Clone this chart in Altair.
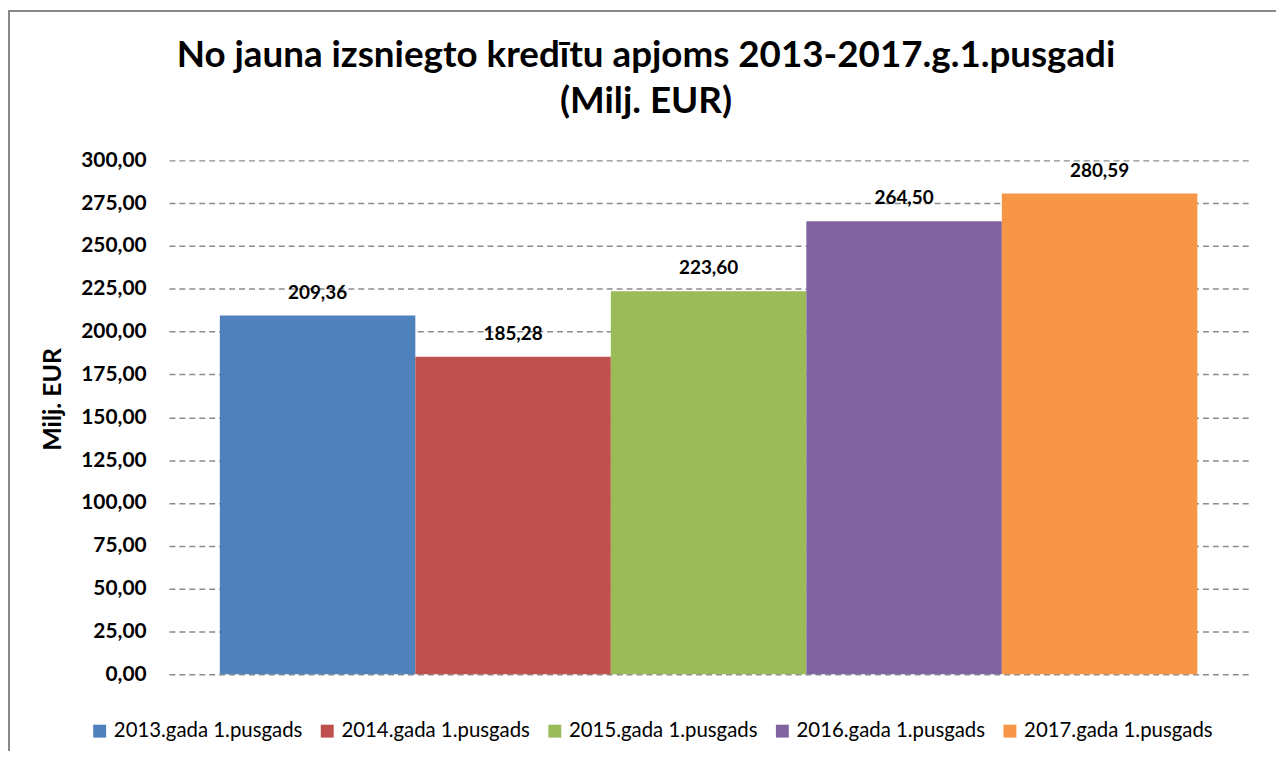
import altair as alt
import pandas as pd

periods = ["2013.gada 1.pusgads", "2014.gada 1.pusgads", "2015.gada 1.pusgads",
           "2016.gada 1.pusgads", "2017.gada 1.pusgads"]
values = [209.36, 185.28, 223.60, 264.50, 280.59]
colors = ["#4F81BD", "#C0504D", "#9BBB59", "#8064A2", "#F79646"]
y_ticks = [0, 25, 50, 75, 100, 125, 150, 175, 200, 225, 250, 275, 300]

df = pd.DataFrame({"period": periods, "value": values})
df["label"] = [f"{v:.2f}".replace(".", ",") for v in values]

FONT = "Lato"

x_enc = alt.X("period:N", sort=periods, axis=None,
              scale=alt.Scale(paddingInner=0, paddingOuter=0.26))
y_enc = alt.Y("value:Q",
              scale=alt.Scale(domain=[0, 300], nice=False),
              axis=alt.Axis(values=y_ticks, title="Milj. EUR",
                            labelExpr="replace(format(datum.value, '.2f'), '.', ',')",
                            labelFont=FONT, labelFontSize=21, labelFontWeight="bold",
                            labelColor="#000000", labelPadding=23,
                            titleFont=FONT, titleFontSize=25, titleFontWeight="bold",
                            titleColor="#000000", titlePadding=15, titleY=240,
                            grid=True, gridDash=[6, 4], gridColor="#8c8c8c",
                            gridWidth=1.5, domain=False, ticks=False))

bars = alt.Chart(df).mark_bar().encode(
    x=x_enc,
    y=y_enc,
    color=alt.Color("period:N", sort=periods,
                    scale=alt.Scale(domain=periods, range=colors),
                    legend=alt.Legend(title=None, orient="none", direction="horizontal",
                                      legendX=-80, legendY=564,
                                      symbolType="square", symbolSize=169,
                                      symbolStrokeWidth=0, labelFont=FONT,
                                      labelFontSize=20.5, labelColor="#000000",
                                      labelOffset=4, columnPadding=14,
                                      labelLimit=300)),
)

labels = alt.Chart(df).mark_text(font=FONT, fontSize=19, fontWeight="bold",
                                 color="#000000", dy=-23, baseline="middle").encode(
    x=alt.X("period:N", sort=periods, axis=None),
    y=alt.Y("value:Q"),
    text="label:N",
)

frame_left = alt.Chart(df).mark_rule(color="#888888", strokeWidth=1.5).encode(
    x=alt.value(-161), y=alt.value(-151), y2=alt.value(600))
frame_top = alt.Chart(df).mark_rule(color="#888888", strokeWidth=1.5).encode(
    x=alt.value(-161), x2=alt.value(1126), y=alt.value(-150))

chart = alt.layer(bars, labels, frame_left, frame_top).properties(
    width=1086, height=517,
    title=alt.TitleParams(
        text=["No jauna izsniegto kredītu apjoms 2013-2017.g.1.pusgadi", "(Milj. EUR)"],
        font=FONT, fontSize=37, fontWeight="bold", color="#000000",
        anchor="middle", frame="group", dx=-63, offset=-112, lineHeight=46),
    autosize=alt.AutoSizeParams(type="none"),
    padding={"left": 162, "top": 151, "right": 28, "bottom": 75},
).configure_view(stroke=None)

chart.save("out.html", embed_options={"renderer": "svg", "actions": False})
